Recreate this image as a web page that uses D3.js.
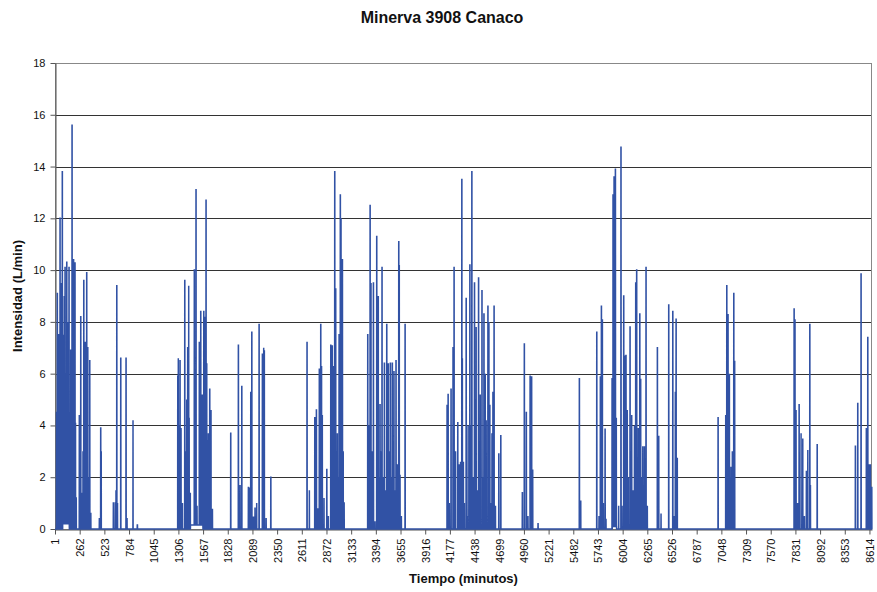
<!DOCTYPE html>
<html><head><meta charset="utf-8">
<script src="https://cdn.jsdelivr.net/npm/d3@7"></script>
<style>
body{margin:0;background:#fff;}
text{font-family:"Liberation Sans",Arial,sans-serif;}
</style>
</head><body>
<svg id="chart" width="877" height="592"></svg>
<script>
const chartTitle = "Minerva 3908 Canaco";
const xTitle = "Tiempo (minutos)";
const yTitle = "Intensidad (L/min)";
const totalMinutes = 8640;
const xTickLabels = [1,262,523,784,1045,1306,1567,1828,2089,2350,2611,2872,3133,3394,3655,3916,4177,4438,4699,4960,5221,5482,5743,6004,6265,6526,6787,7048,7309,7570,7831,8092,8353,8614];
const yTickValues = [0,2,4,6,8,10,12,14,16,18];

// flow events: start minute, length (minutes), intensity (L/min)
const eventStart = [
83,1434,5895,
17,25,33,40,46,54,61,68,78,83,91,99,107,115,125,133,141,149,157,167,173,181,188,197,205,213,218,225,
258,265,273,287,297,305,313,321,329,336,347,355,368,379,
470,484,490,618,639,646,654,662,696,752,762,826,871,
1299,1305,1312,1323,1334,1349,1373,1381,1394,1404,1415,1420,1432,1474,1481,1492,1503,1527,1534,1542,1550,1559,1574,1584,1591,1598,1606,1616,1623,1637,1651,1665,
1859,1940,1958,1976,2046,2056,2071,2082,2099,2116,2134,2159,2194,2208,2215,2233,2283,
2666,2691,2748,2754,2765,2779,2796,2811,2820,2828,2846,2875,2892,2917,2925,2934,2944,2959,2970,2978,2987,2996,3005,3018,3026,3033,3040,3049,3058,
3308,3322,3333,3343,3354,3368,3385,3403,3420,3430,3438,3449,3459,3470,3484,3496,3509,3526,3536,3547,3557,3568,3586,3597,3607,3621,3636,3642,3650,3664,3703,
4147,4158,4171,4189,4210,4221,4237,4260,4274,4290,4303,4309,4320,4330,4349,4359,4370,4388,4398,4409,4423,4437,4444,4455,4466,4480,4490,4498,4516,4526,4537,4547,4551,4561,4579,4590,4600,4611,4622,4632,4644,4659,4694,4715,
4943,4964,4985,5003,5025,5042,5053,5109,5546,5561,
5730,5754,5768,5779,5790,5800,5818,5828,5892,5902,5909,5913,5919,5927,5937,5962,5986,5997,6015,6023,6039,6053,6064,6082,6100,6116,6129,6142,6152,6170,6185,6195,6204,6217,6234,6241,6251,6265,6371,6386,6410,6491,6534,6548,6561,6569,6582,
7013,7094,7105,7119,7133,7140,7150,7164,7179,7189,
7817,7827,7838,7854,7870,7891,7909,7926,7947,7962,7983,7990,8061,
8465,8490,8525,8581,8596,8610,8624,8638
];
const eventMinutes = [
70,132,45,
2,2,1,2,1,2,1,1,2,1,1,1,2,1,2,1,1,2,1,2,1,2,1,2,1,1,1,2,
1,1,2,1,1,2,1,2,1,2,2,1,2,2,
2,2,1,3,2,1,2,1,2,2,2,1,3,
2,1,1,2,1,1,2,1,1,2,1,1,1,2,1,2,1,2,1,2,1,1,2,1,1,2,1,2,1,2,1,2,
2,2,1,2,2,1,1,2,2,2,1,2,2,1,1,2,2,
2,1,2,1,2,1,1,2,1,1,1,2,1,2,1,1,1,2,1,1,1,1,2,2,1,1,2,1,2,
2,1,2,1,1,2,1,2,1,1,2,1,2,1,2,1,2,1,1,2,1,2,1,1,2,1,2,1,1,1,2,
1,2,1,2,2,2,1,2,1,1,2,1,1,1,2,1,1,2,1,2,1,2,1,1,1,2,1,1,2,1,2,1,1,1,2,1,1,1,1,1,2,1,2,2,
2,2,2,1,2,1,1,2,2,1,
2,1,1,2,1,1,2,1,2,2,1,2,1,2,1,1,2,1,2,1,2,1,1,2,1,1,1,2,2,1,2,1,1,1,1,1,2,1,2,1,1,2,2,1,1,2,1,
2,1,2,1,1,1,1,1,2,1,
2,1,1,1,2,1,1,1,1,1,2,1,2,
2,2,2,1,2,1,1,2
];
const eventFlow = [
0.2,0.15,0.1,
4.5,9.1,3.0,7.5,2.5,12.0,5.0,9.5,13.8,7.5,4.0,9.0,10.1,6.0,10.3,5.5,8.0,10.1,4.5,6.9,3.0,15.6,5.0,10.4,7.0,10.3,4.1,1.2,
4.4,1.0,8.2,1.4,3.0,9.6,4.0,7.2,3.0,9.9,7.0,2.0,6.5,0.6,
0.4,3.9,3.0,1.0,1.0,1.5,9.4,1.0,6.6,6.6,0.4,4.2,0.15,
5.9,6.6,4.0,6.5,3.9,1.0,9.6,3.0,5.0,7.0,9.4,4.3,1.4,10.0,6.0,13.1,0.9,7.2,2.0,8.4,4.0,5.2,8.4,8.2,4.0,12.7,6.4,3.4,3.7,5.4,4.6,0.75,
3.7,7.1,1.7,5.5,1.6,1.6,5.3,7.6,0.45,0.8,1.0,7.9,6.75,7.0,6.9,0.4,2.0,
7.2,1.5,4.3,3.9,4.6,0.8,6.2,7.9,6.3,4.4,1.2,2.3,0.5,7.1,3.0,7.1,6.3,13.8,9.3,3.0,3.7,2.0,7.5,12.9,12.0,5.0,10.4,3.0,1.0,
7.5,4.0,12.5,9.5,3.0,9.5,0.3,11.3,9.0,2.0,4.8,3.0,10.1,2.0,6.4,1.5,7.9,6.4,3.0,6.4,2.0,6.4,6.1,1.5,6.5,2.5,11.1,10.2,2.1,0.5,7.9,
4.8,5.2,1.0,5.4,7.0,10.1,3.0,4.1,2.5,2.6,13.5,6.6,2.6,1.0,8.9,0.5,4.0,10.2,4.0,13.8,2.0,9.5,5.0,7.8,1.5,9.7,3.0,5.2,9.2,2.0,8.3,4.0,6.0,4.2,8.6,8.0,4.8,1.0,3.7,5.3,8.6,0.9,2.9,3.6,
1.4,7.15,4.5,0.5,5.9,5.9,2.3,0.2,5.8,1.1,
7.6,0.5,5.9,8.6,8.1,1.0,3.85,0.4,5.8,12.9,9.0,13.6,4.0,13.9,4.3,0.9,14.75,0.9,9.0,6.7,6.7,4.6,2.0,7.8,4.4,1.5,4.0,9.5,10.0,3.9,8.3,5.8,2.0,3.2,3.2,0.8,10.1,0.9,7.0,3.6,0.6,8.65,8.4,0.5,5.3,8.1,2.75,
4.3,4.4,9.4,8.3,6.0,2.0,2.4,3.0,9.1,6.5,
8.5,8.1,4.6,1.0,4.8,3.7,3.5,0.5,2.25,3.05,7.9,1.7,3.25,
3.2,4.85,9.85,3.9,7.4,2.5,2.5,1.6
];

// minute-by-minute series built from the events
const minutes = d3.range(1, totalMinutes + 1);
const flow = minutes.map(() => 0);
const nEv = Math.min(eventStart.length, eventMinutes.length, eventFlow.length);
for (let e = 0; e < nEv; e++) {
  for (let k = 0; k < eventMinutes[e]; k++) {
    const idx = eventStart[e] - 1 + k;
    if (idx >= 0 && idx < totalMinutes) flow[idx] = eventFlow[e];
  }
}

const svg = d3.select("#chart");
svg.append("rect").attr("width", 877).attr("height", 592).attr("fill", "#fff");

const L = 55, R = 872, T = 63, B = 529;
const x = d3.scaleLinear().domain([1, totalMinutes + 1]).range([L, R]);
const y = d3.scaleLinear().domain([0, 18]).range([B, T]);

// gridlines
svg.append("g").selectAll("line").data(yTickValues.filter(v => v > 0 && v < 18)).join("line")
  .attr("x1", L).attr("x2", R)
  .attr("y1", d => Math.round(y(d)) + 0.5).attr("y2", d => Math.round(y(d)) + 0.5)
  .attr("stroke", "#333").attr("stroke-width", 1);

// plot border
svg.append("rect").attr("x", L + 0.5).attr("y", T + 0.5).attr("width", R - L - 1).attr("height", B - T)
  .attr("fill", "none").attr("stroke", "#888");

// y axis
const gy = svg.append("g").attr("transform", `translate(${L + 0.5},0)`)
  .call(d3.axisLeft(y).tickValues(yTickValues).tickSize(5).tickPadding(5).tickSizeOuter(0));
gy.select(".domain").attr("stroke", "#555");
gy.selectAll(".tick line").attr("stroke", "#555");
gy.selectAll("text").attr("font-size", 11).attr("fill", "#111")
  .attr("font-family", "'Liberation Sans', Arial, sans-serif");

// x axis
const gx = svg.append("g").attr("transform", `translate(0,${B + 0.5})`)
  .call(d3.axisBottom(x).tickValues(xTickLabels).tickFormat(d3.format("d")).tickSize(5).tickSizeOuter(0));
gx.select(".domain").attr("stroke", "#555");
gx.selectAll(".tick line").attr("stroke", "#555");
gx.selectAll("text")
  .attr("font-size", 11).attr("fill", "#111")
  .attr("font-family", "'Liberation Sans', Arial, sans-serif")
  .attr("transform", "rotate(-90)")
  .attr("x", -9).attr("y", 0).attr("dy", "0.36em")
  .style("text-anchor", "end");

// data line
const line = d3.line().x((d, i) => x(minutes[i])).y(d => y(d));
svg.append("path").datum(flow)
  .attr("d", line)
  .attr("fill", "none")
  .attr("stroke", "#3152a5")
  .attr("stroke-width", 1.5)
  .attr("stroke-linejoin", "miter");

// titles
svg.append("text").attr("x", 442).attr("y", 23).attr("text-anchor", "middle")
  .attr("font-size", 16).attr("font-weight", "bold").attr("fill", "#111").text(chartTitle);
svg.append("text").attr("x", (L + R) / 2).attr("y", 583).attr("text-anchor", "middle")
  .attr("font-size", 13).attr("font-weight", "bold").attr("fill", "#111").text(xTitle);
svg.append("text").attr("transform", `translate(22,296) rotate(-90)`).attr("text-anchor", "middle")
  .attr("font-size", 13).attr("font-weight", "bold").attr("fill", "#111").text(yTitle);
</script>
</body></html>
